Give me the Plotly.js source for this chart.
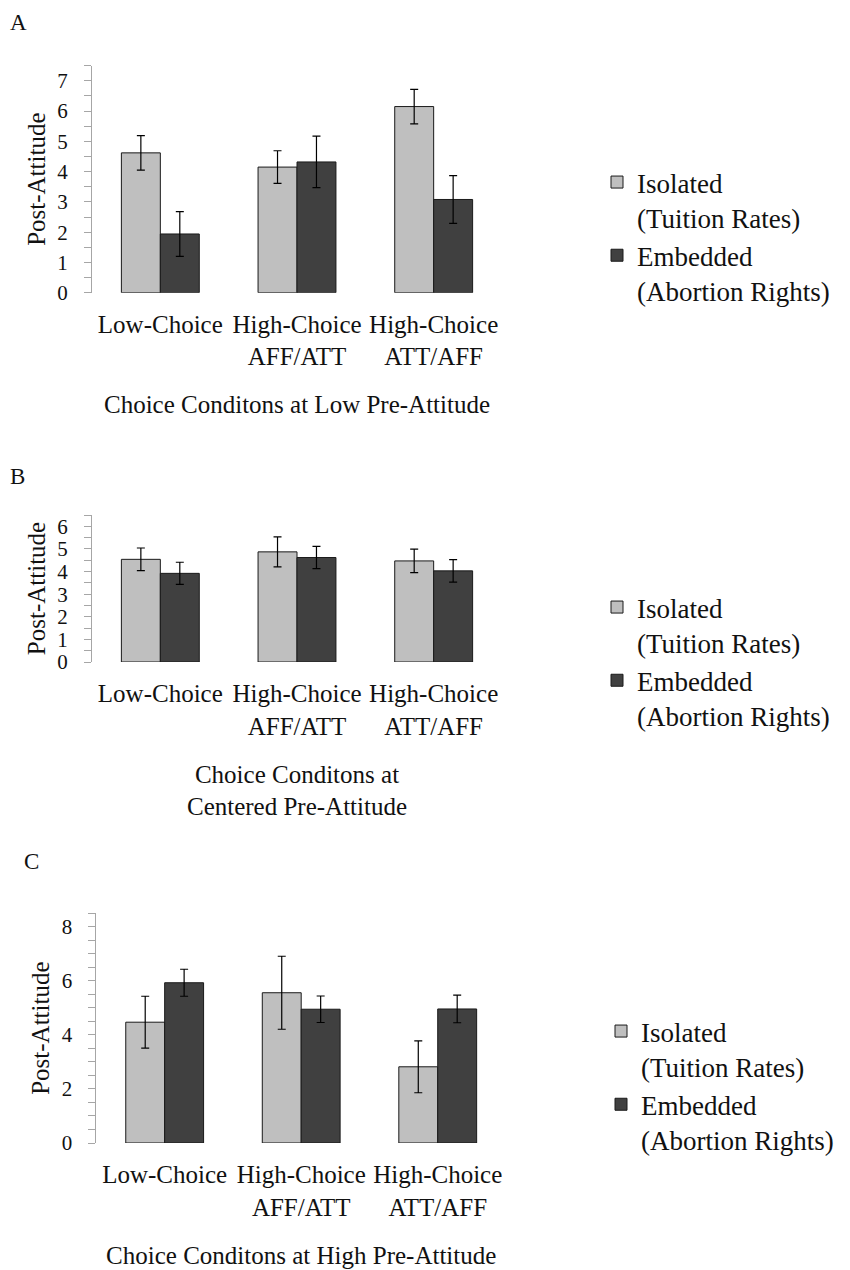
<!DOCTYPE html>
<html>
<head>
<meta charset="utf-8">
<script src="https://cdn.plot.ly/plotly-3.0.1.min.js"></script>
<style>
  html, body { margin: 0; padding: 0; background: #ffffff; }
  #chart { width: 850px; height: 1270px; }
</style>
</head>
<body>
<div id="chart"></div>
<script>
// ---- Data ----
const categories = ['Low-Choice', 'High-Choice<br>AFF/ATT', 'High-Choice<br>ATT/AFF'];
const seriesNames = ['Isolated<br>(Tuition Rates)', 'Embedded<br>(Abortion Rights)'];

const panelA_isolated = [4.62, 4.15, 6.15];
const panelA_isolatedErr = [0.57, 0.54, 0.57];
const panelA_embedded = [1.94, 4.32, 3.08];
const panelA_embeddedErr = [0.74, 0.85, 0.79];

const panelB_isolated = [4.54, 4.87, 4.47];
const panelB_isolatedErr = [0.50, 0.66, 0.52];
const panelB_embedded = [3.92, 4.62, 4.03];
const panelB_embeddedErr = [0.49, 0.49, 0.50];

const panelC_isolated = [4.47, 5.56, 2.82];
const panelC_isolatedErr = [0.96, 1.35, 0.96];
const panelC_embedded = [5.93, 4.95, 4.96];
const panelC_embeddedErr = [0.50, 0.49, 0.51];

const panelLetters = ['A', 'B', 'C'];
const xTitles = [
  'Choice Conditons at Low Pre-Attitude',
  'Choice Conditons at<br>Centered Pre-Attitude',
  'Choice Conditons at High Pre-Attitude'
];
const yTitle = 'Post-Attitude';

// ---- Styling ----
const W = 850, H = 1270;
const SERIF = 'Liberation Serif';
const TXT = '#111111';
const ISO_COLOR = '#bfbfbf';
const EMB_COLOR = '#404040';
const AXIS_GRAY = '#a6a6a6';

const px = v => v / W;
const py = v => 1 - v / H;

function barTrace(name, y, err, color, xa, ya, leg) {
  return {
    type: 'bar', name: name, x: categories, y: y,
    xaxis: xa, yaxis: ya, legend: leg,
    marker: { color: color, line: { color: '#1a1a1a', width: 1 } },
    error_y: { type: 'data', array: err, visible: true, color: '#000000', thickness: 1.2, width: 4 },
    hoverinfo: 'skip'
  };
}

const data = [
  barTrace(seriesNames[0], panelA_isolated, panelA_isolatedErr, ISO_COLOR, 'x', 'y', 'legend'),
  barTrace(seriesNames[1], panelA_embedded, panelA_embeddedErr, EMB_COLOR, 'x', 'y', 'legend'),
  barTrace(seriesNames[0], panelB_isolated, panelB_isolatedErr, ISO_COLOR, 'x2', 'y2', 'legend2'),
  barTrace(seriesNames[1], panelB_embedded, panelB_embeddedErr, EMB_COLOR, 'x2', 'y2', 'legend2'),
  barTrace(seriesNames[0], panelC_isolated, panelC_isolatedErr, ISO_COLOR, 'x3', 'y3', 'legend3'),
  barTrace(seriesNames[1], panelC_embedded, panelC_embeddedErr, EMB_COLOR, 'x3', 'y3', 'legend3')
];

function xAxis(domain, anchor, title) {
  return {
    domain: domain, anchor: anchor, type: 'category',
    showline: false, ticks: '', showgrid: false, zeroline: false,
    tickangle: 0,
    tickfont: { family: SERIF, size: 25, color: TXT },
    ticklabelstandoff: 14,
    title: { text: title, font: { family: SERIF, size: 25, color: TXT }, standoff: 26 },
    automargin: false, fixedrange: true
  };
}
function yAxis(domain, anchor, range, dtick) {
  return {
    domain: domain, anchor: anchor, range: range, dtick: dtick, tick0: 0,
    showline: true, linecolor: AXIS_GRAY, linewidth: 1,
    ticks: 'outside', ticklen: 7, tickcolor: AXIS_GRAY, tickwidth: 1,
    minor: { dtick: 0.5, tick0: 0, ticks: 'outside', ticklen: 7, tickcolor: AXIS_GRAY, tickwidth: 1, showgrid: false },
    showgrid: false, zeroline: false,
    tickfont: { family: SERIF, size: 21, color: TXT },
    ticklabelstandoff: 12,
    title: { text: yTitle, font: { family: SERIF, size: 25, color: TXT }, standoff: 4 },
    automargin: false, fixedrange: true
  };
}

function legendAt(xPix, yPix) {
  return {
    x: px(xPix), y: py(yPix), xanchor: 'left', yanchor: 'top',
    font: { family: SERIF, size: 27, color: TXT },
    valign: 'top', bgcolor: 'rgba(0,0,0,0)', borderwidth: 0,
    tracegroupgap: 0
  };
}

function letter(i, xPix, yPix) {
  return { text: panelLetters[i], x: px(xPix), y: py(yPix), xref: 'paper', yref: 'paper',
    xanchor: 'center', yanchor: 'middle', showarrow: false,
    font: { family: SERIF, size: 23, color: TXT } };
}

const layout = {
  width: W, height: H,
  margin: { l: 0, r: 0, t: 0, b: 0 },
  paper_bgcolor: '#ffffff', plot_bgcolor: '#ffffff',
  barmode: 'group', bargap: 0.43, bargroupgap: 0,
  showlegend: true,
  xaxis: xAxis([px(92), px(502)], 'y', xTitles[0]),
  yaxis: yAxis([py(292.7), py(65.7)], 'x', [0, 7.5], 1),
  xaxis2: xAxis([px(92), px(502)], 'y2', xTitles[1]),
  yaxis2: yAxis([py(662), py(515)], 'x2', [0, 6.5], 1),
  xaxis3: xAxis([px(96.4), px(506)], 'y3', xTitles[2]),
  yaxis3: yAxis([py(1143), py(913.3)], 'x3', [0, 8.5], 2),
  legend: legendAt(597, 158),
  legend2: legendAt(597, 583),
  legend3: legendAt(601, 1007),
  annotations: [letter(0, 18.5, 22.5), letter(1, 17.5, 476.5), letter(2, 32, 862)]
};

Plotly.newPlot('chart', data, layout, { displayModeBar: false });
</script>
</body>
</html>
